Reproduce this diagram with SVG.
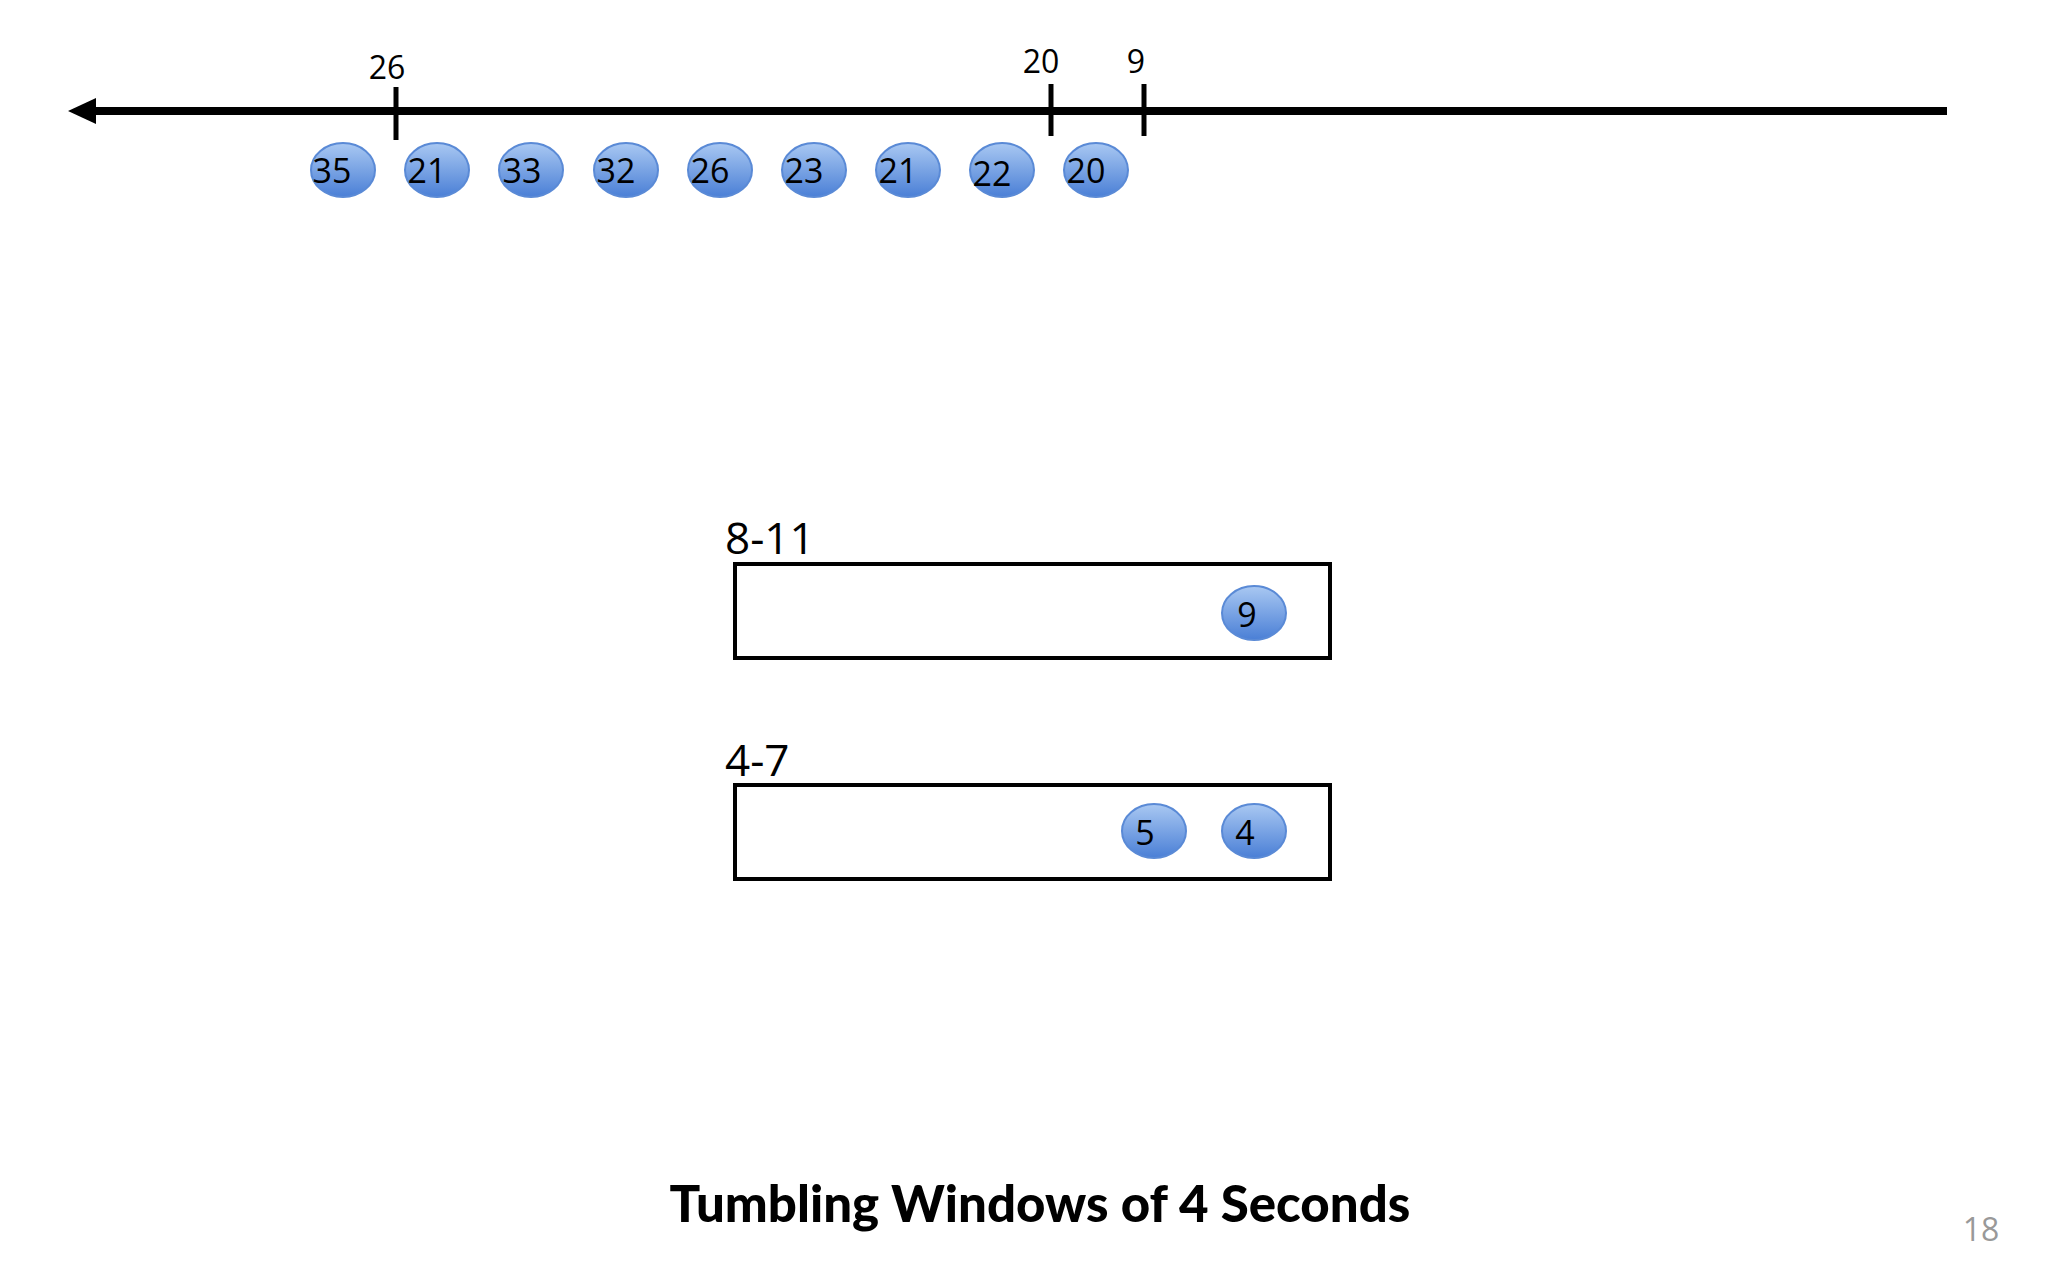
<svg xmlns="http://www.w3.org/2000/svg" width="2048" height="1280" viewBox="0 0 2048 1280">
<style>
.ax{stroke:#000;stroke-width:8;fill:none}
.tk{stroke:#000;stroke-width:5}
.ev{fill:url(#g);stroke:#5a8ad6;stroke-width:2}
.et{font-family:"Open Sans","Liberation Sans",sans-serif;font-size:34px;fill:#000;text-anchor:middle}
.lb{font-family:"Open Sans","Liberation Sans",sans-serif;fill:#000}
.box{fill:#fff;stroke:#000;stroke-width:4}
</style>
<defs>
<linearGradient id="g" x1="0" y1="0" x2="0" y2="1">
<stop offset="0" stop-color="#a9c8f2"/><stop offset="1" stop-color="#4a7fd6"/>
</linearGradient>
</defs>
<rect width="2048" height="1280" fill="#fff"/>
<g id="connectors">
<line class="ax" x1="92" y1="111" x2="1947" y2="111"/>
<polygon points="68,111 96,98 96,124" fill="#000"/>
<line class="tk" x1="396" y1="87" x2="396" y2="140"/>
<line class="tk" x1="1051" y1="84" x2="1051" y2="136"/>
<line class="tk" x1="1144" y1="84" x2="1144" y2="136"/>
</g>
<g id="ticklabels" class="lb" font-size="32" text-anchor="middle">
<text x="387" y="79">26</text><text x="1041" y="73">20</text><text x="1136" y="73">9</text>
</g>
<g id="stream">
<ellipse class="ev" cx="343" cy="170" rx="32" ry="27"/><text class="et" x="332" y="183">35</text>
<ellipse class="ev" cx="437" cy="170" rx="32" ry="27"/><text class="et" x="427" y="183">21</text>
<ellipse class="ev" cx="531" cy="170" rx="32" ry="27"/><text class="et" x="522" y="183">33</text>
<ellipse class="ev" cx="626" cy="170" rx="32" ry="27"/><text class="et" x="616" y="183">32</text>
<ellipse class="ev" cx="720" cy="170" rx="32" ry="27"/><text class="et" x="710" y="183">26</text>
<ellipse class="ev" cx="814" cy="170" rx="32" ry="27"/><text class="et" x="804" y="183">23</text>
<ellipse class="ev" cx="908" cy="170" rx="32" ry="27"/><text class="et" x="898" y="183">21</text>
<ellipse class="ev" cx="1002" cy="170" rx="32" ry="27"/><text class="et" x="992" y="186">22</text>
<ellipse class="ev" cx="1096" cy="170" rx="32" ry="27"/><text class="et" x="1086" y="183">20</text>
</g>
<g id="window-8-11">
<text class="lb" x="725" y="554" font-size="44">8-11</text>
<rect class="box" x="735" y="564" width="595" height="94"/>
<ellipse class="ev" cx="1254" cy="613" rx="32" ry="27"/><text class="et" x="1247" y="627">9</text>
</g>
<g id="window-4-7">
<text class="lb" x="725" y="776" font-size="44">4-7</text>
<rect class="box" x="735" y="785" width="595" height="94"/>
<ellipse class="ev" cx="1154" cy="831" rx="32" ry="27"/><text class="et" x="1145" y="845">5</text>
<ellipse class="ev" cx="1254" cy="831" rx="32" ry="27"/><text class="et" x="1245" y="845">4</text>
</g>
<text x="1040" y="1222" text-anchor="middle" font-family="Lato,'Liberation Sans',sans-serif" font-weight="900" font-size="51" fill="#000">Tumbling Windows of 4 Seconds</text>
<text x="1981" y="1241" text-anchor="middle" font-family="'Open Sans','Liberation Sans',sans-serif" font-size="32" fill="#999">18</text>
</svg>
